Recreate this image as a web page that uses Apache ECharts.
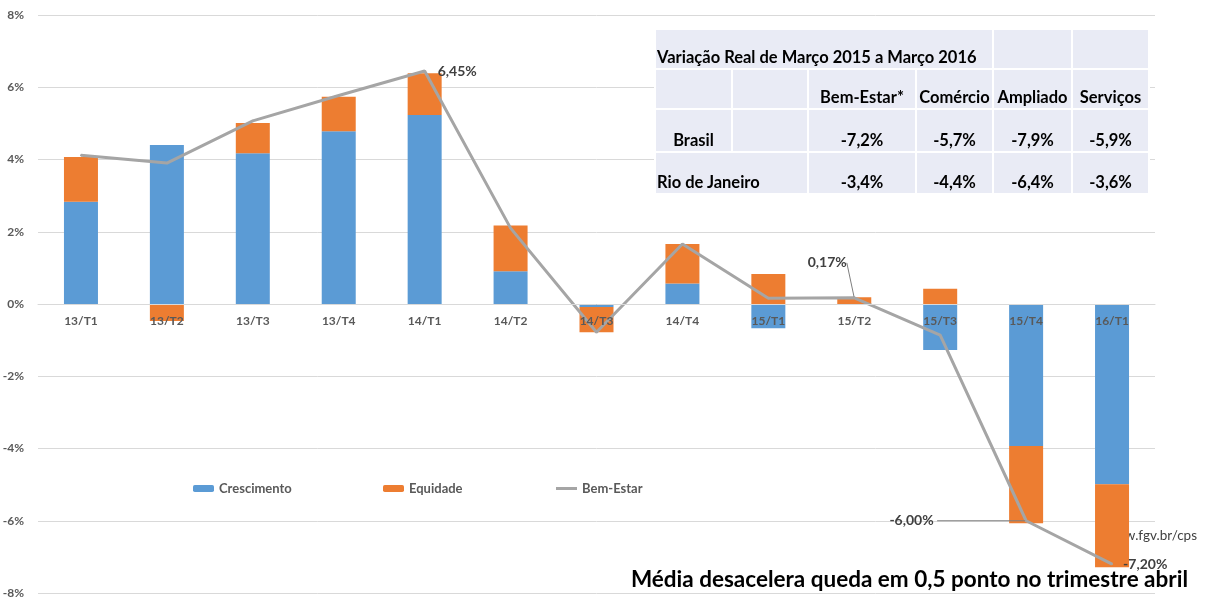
<!DOCTYPE html>
<html>
<head>
<meta charset="utf-8">
<title>Bem-Estar</title>
<script src="https://cdn.jsdelivr.net/npm/echarts@6/dist/echarts.min.js"></script>
<style>
  body { margin: 0; background: #fff; }
  #wrap { position: relative; width: 1209px; height: 602px; }
  #chart { width: 1209px; height: 602px; }
  #tbl {
    position: absolute; left: 654px; top: 28px; width: 496px;
    border-collapse: collapse; table-layout: fixed;
    font-family: Lato, sans-serif; font-weight: bold; font-size: 16.5px; color: #000;
  }
  #tbl td {
    background: #e9ebf5; border: 2px solid #fff; padding: 0 0 1px 0;
    vertical-align: bottom; text-align: center; white-space: nowrap; line-height: 19px;
  }
  #tbl td.l { text-align: left; padding-left: 1px; }
</style>
</head>
<body>
<div id="wrap">
  <div id="chart"></div>
  <table id="tbl">
    <colgroup>
      <col style="width:77px"><col style="width:76px"><col style="width:108px">
      <col style="width:77px"><col style="width:79px"><col style="width:77px">
    </colgroup>
    <tbody></tbody>
  </table>
</div>
<script>
// dados (em %)
var categories = ['13/T1', '13/T2', '13/T3', '13/T4', '14/T1', '14/T2', '14/T3', '14/T4', '15/T1', '15/T2', '15/T3', '15/T4', '16/T1']
var crescimento = [2.83, 4.40, 4.17, 4.78, 5.23, 0.91, -0.08, 0.57, -0.67, -0.02, -1.27, -3.93, -4.99]
var equidade = [1.24, -0.47, 0.84, 0.96, 1.16, 1.26, -0.70, 1.09, 0.83, 0.19, 0.42, -2.14, -2.30]
var bemEstar = [4.12, 3.90, 5.07, 5.77, 6.45, 2.10, -0.78, 1.66, 0.16, 0.17, -0.86, -6.00, -7.20]
var yTicks = [-8, -6, -4, -2, 0, 2, 4, 6, 8]

// tabela
var tableTitle = 'Variação Real de Março 2015 a Março 2016'
var tableCols = ['Bem-Estar*', 'Comércio', 'Ampliado', 'Serviços']
var tableRows = ['Brasil', 'Rio de Janeiro']
var brasil = ['-7,2%', '-5,7%', '-7,9%', '-5,9%']
var rioDeJaneiro = ['-3,4%', '-4,4%', '-6,4%', '-3,6%']

var footer = 'Média desacelera queda em 0,5 ponto no trimestre abril'
var source = 'www.fgv.br/cps'

var font = 'Lato, sans-serif'
var gray = '#595959'

function pct(v) {
  return v.toFixed(2).replace('.', ',') + '%'
}

// monta a tabela
var tbody = document.querySelector('#tbl tbody')
tbody.innerHTML =
  '<tr style="height:40px"><td class="l" colspan="4">' + tableTitle + '</td><td></td><td></td></tr>' +
  '<tr style="height:40px"><td></td><td></td>' + tableCols.map(function(c) { return '<td>' + c + '</td>' }).join('') + '</tr>' +
  '<tr style="height:43px"><td>' + tableRows[0] + '</td><td></td>' + brasil.map(function(c) { return '<td>' + c + '</td>' }).join('') + '</tr>' +
  '<tr style="height:42px"><td class="l" colspan="2">' + tableRows[1] + '</td>' + rioDeJaneiro.map(function(c) { return '<td>' + c + '</td>' }).join('') + '</tr>'

// rotulos da linha (indice -> estilo)
var lineLabels = {
  4: { position: 'right', distance: 12 },
  9: { position: 'top', offset: [-27, -22], guide: true },
  11: { position: 'left', distance: 0, rule: 88 },
  12: { position: 'right', distance: 10 }
}

var lineData = bemEstar.map(function(v, i) {
  var cfg = lineLabels[i]
  if (!cfg) return v
  return {
    value: v,
    label: {
      show: true,
      position: cfg.position,
      distance: cfg.distance,
      offset: cfg.offset,
      // traco horizontal ate o ponto (rotulo -6,00%)
      formatter: function(p) {
        return cfg.rule ? '{t|' + pct(p.value) + '} {r|}' : pct(p.value)
      },
      rich: {
        t: { color: '#404040', fontFamily: font, fontWeight: 'bold', fontSize: 14 },
        r: { width: cfg.rule || 0, height: 1, backgroundColor: '#7f7f7f' }
      },
      color: '#404040',
      fontFamily: font,
      fontWeight: 'bold',
      fontSize: 14
    },
    labelLine: { show: !!cfg.guide, lineStyle: { color: '#7f7f7f', width: 1 } }
  }
})

var chart = echarts.init(document.getElementById('chart'))

chart.setOption({
  animation: false,
  grid: {
    left: 38,
    right: 54,
    top: 15,
    bottom: 9,
    outerBoundsMode: 'none'
  },
  legend: [
    { data: ['Crescimento'], left: 193 },
    { data: ['Equidade'], left: 383 },
    { data: [{ name: 'Bem-Estar', icon: 'rect', itemStyle: { color: '#a5a5a5' } }], left: 556, itemHeight: 3 }
  ].map(function(l) {
    return Object.assign({
      top: 482,
      padding: 0,
      itemWidth: 21,
      itemHeight: 7,
      textStyle: { color: gray, fontFamily: font, fontWeight: 'bold', fontSize: 13 }
    }, l)
  }),
  title: {
    text: footer,
    right: 21,
    top: 568,
    padding: 0,
    textStyle: { color: '#000', fontFamily: font, fontWeight: 'bold', fontSize: 22.5 }
  },
  graphic: [{
    type: 'text',
    right: 12,
    top: 529,
    z: 0,
    style: { text: source, fill: '#404040', font: '13.5px ' + font }
  }],
  xAxis: {
    type: 'category',
    data: categories,
    z: 5,
    axisLine: { onZero: false, lineStyle: { color: '#d9d9d9' } },
    axisTick: { show: false },
    axisLabel: {
      interval: 0,
      color: gray,
      fontFamily: font,
      fontWeight: 'bold',
      fontSize: 12,
      margin: 11
    }
  },
  yAxis: {
    type: 'value',
    min: yTicks[0],
    max: yTicks[yTicks.length - 1],
    interval: 2,
    axisLine: { show: false },
    axisTick: { show: false },
    splitLine: { lineStyle: { color: '#d9d9d9' } },
    axisLabel: {
      formatter: '{value}%',
      color: gray,
      fontFamily: font,
      fontWeight: 'bold',
      fontSize: 12,
      margin: 14
    }
  },
  series: [{
    name: 'Crescimento',
    type: 'bar',
    stack: 'total',
    barWidth: 34,
    itemStyle: { color: '#5b9bd5' },
    data: crescimento
  }, {
    name: 'Equidade',
    type: 'bar',
    stack: 'total',
    barWidth: 34,
    itemStyle: { color: '#ed7d31' },
    data: equidade
  }, {
    name: 'Bem-Estar',
    type: 'line',
    symbol: 'circle',
    symbolSize: 2,
    z: 4,
    lineStyle: { color: '#a5a5a5', width: 3 },
    itemStyle: { color: '#a5a5a5' },
    data: lineData
  }]
})

// onZero nao funcionou aqui: sobe o eixo x ate o zero pela propria escala
var zeroY = chart.convertToPixel({ yAxisIndex: 0 }, 0)
var bottomY = chart.convertToPixel({ yAxisIndex: 0 }, yTicks[0])
chart.setOption({ xAxis: { offset: zeroY - bottomY } })
</script>
</body>
</html>
